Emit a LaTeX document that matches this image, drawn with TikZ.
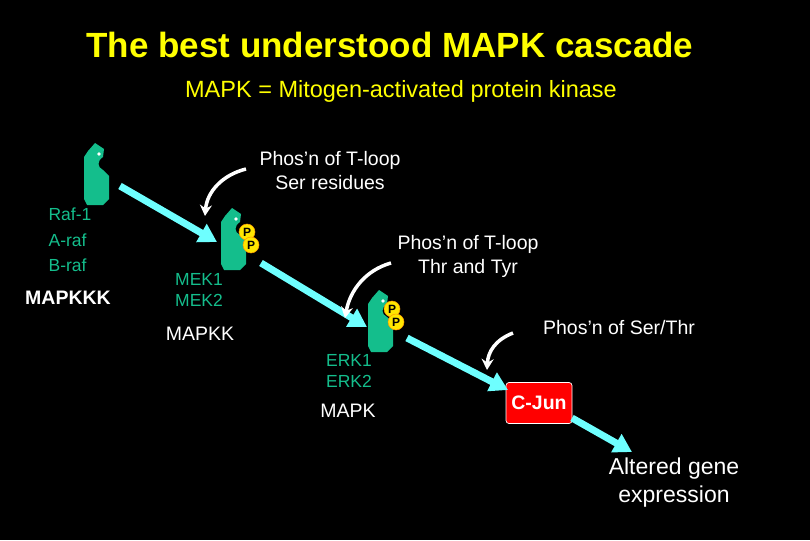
\documentclass[tikz,border=0pt]{standalone}
\usepackage{fontspec}
\setmainfont{Liberation Sans}
\usetikzlibrary{arrows.meta}
\definecolor{kgreen}{RGB}{20,190,140}
\definecolor{tyel}{RGB}{255,255,0}
\definecolor{acyan}{RGB}{110,255,255}
\definecolor{pyel}{RGB}{255,230,0}
\begin{document}
\begin{tikzpicture}[x=1pt,y=-1pt,
  wlab/.style={text=white,font=\fontsize{19.5}{24}\selectfont,align=center},
  glab/.style={text=kgreen,font=\fontsize{17.5}{21}\selectfont,align=left},
  blab/.style={text=white,font=\fontsize{19.5}{22}\selectfont},
  flow/.style={acyan,line width=7pt,-{Triangle[length=18pt,width=20pt]}},
  curvarrow/.style={white,line width=3.5pt,-{Stealth[length=11pt,width=12pt]}},
  pdot/.style={circle,fill=pyel,draw=orange!80!yellow,line width=0.5pt,inner sep=0pt,minimum size=16pt,font=\bfseries\fontsize{12}{12}\selectfont,text=black},
  kin/.pic={\fill[kgreen] (4,8) -- (11,0) -- (20,6) -- (19,14) .. controls (13,18) and (13,24) .. (19,27) -- (25,33) -- (25,56) -- (19,62) -- (3,62) -- (0,56) -- (0,14) -- cycle;
            \fill[white] (15,11) circle (1.8);}]
\fill[black] (0,0) rectangle (810,540);
\useasboundingbox (0,0) rectangle (810,540);
\node[text=tyel,font=\bfseries\fontsize{35}{40}\selectfont] (title) at (390,45) {The best understood MAPK cascade};
\node[text=tyel,font=\fontsize{23.5}{28}\selectfont] (sub) at (401,91) {MAPK = Mitogen-activated protein kinase};
\pic at (84,143) {kin};
\pic at (221,208) {kin};
\pic at (368,290) {kin};
\node[pdot] (p1) at (247,232) {P};
\node[pdot] (p2) at (251,245) {P};
\node[pdot] (p3) at (392,309) {P};
\node[pdot] (p4) at (396,322) {P};
\coordinate (raf) at (120,186);
\coordinate (mekin) at (217,242);
\coordinate (mekout) at (261,263);
\coordinate (erkin) at (367,327);
\coordinate (erkout) at (407,338);
\coordinate (cjin) at (508,390);
\node[fill=red,draw=white,line width=0.7pt,rounded corners=3pt,text=white,font=\bfseries\fontsize{19.5}{22}\selectfont,minimum width=66pt,minimum height=41pt,inner sep=1pt] (cjun) at (539,403) {C-Jun};
\coordinate (cjout) at (572,418);
\coordinate (alt) at (632,452);
\draw[flow] (raf) -- (mekin);
\draw[flow] (mekout) -- (erkin);
\draw[flow] (erkout) -- (cjin);
\draw[flow] (cjout) -- (alt);
\node[glab,font=\fontsize{17.5}{25.5}\selectfont] (raflab) at (70,240) {Raf-1\\A-raf\\B-raf};
\node[blab,font=\bfseries\fontsize{19.5}{22}\selectfont] (mapkkk) at (68,298) {MAPKKK};
\node[glab] (meklab) at (199,290) {MEK1\\MEK2};
\node[blab] (mapkk) at (200,334) {MAPKK};
\node[glab] (erklab) at (349,371) {ERK1\\ERK2};
\node[blab] (mapk) at (348,411) {MAPK};
\node[wlab] (t1) at (330,171) {Phos’n of T-loop\\Ser residues};
\node[wlab] (t2) at (468,256) {Phos’n of T-loop\\Thr and Tyr};
\node[wlab] (t3) at (619,328) {Phos’n of Ser/Thr};
\node[wlab,font=\fontsize{23}{28}\selectfont] (t4) at (674,483) {Altered gene\\expression};
\draw[curvarrow] (246,169) .. controls (222,175) and (207,192) .. (205,216);
\draw[curvarrow] (391,263) .. controls (366,270) and (350,290) .. (345,318);
\draw[curvarrow] (513,333) .. controls (495,340) and (488,352) .. (487,370);
\end{tikzpicture}
\end{document}
